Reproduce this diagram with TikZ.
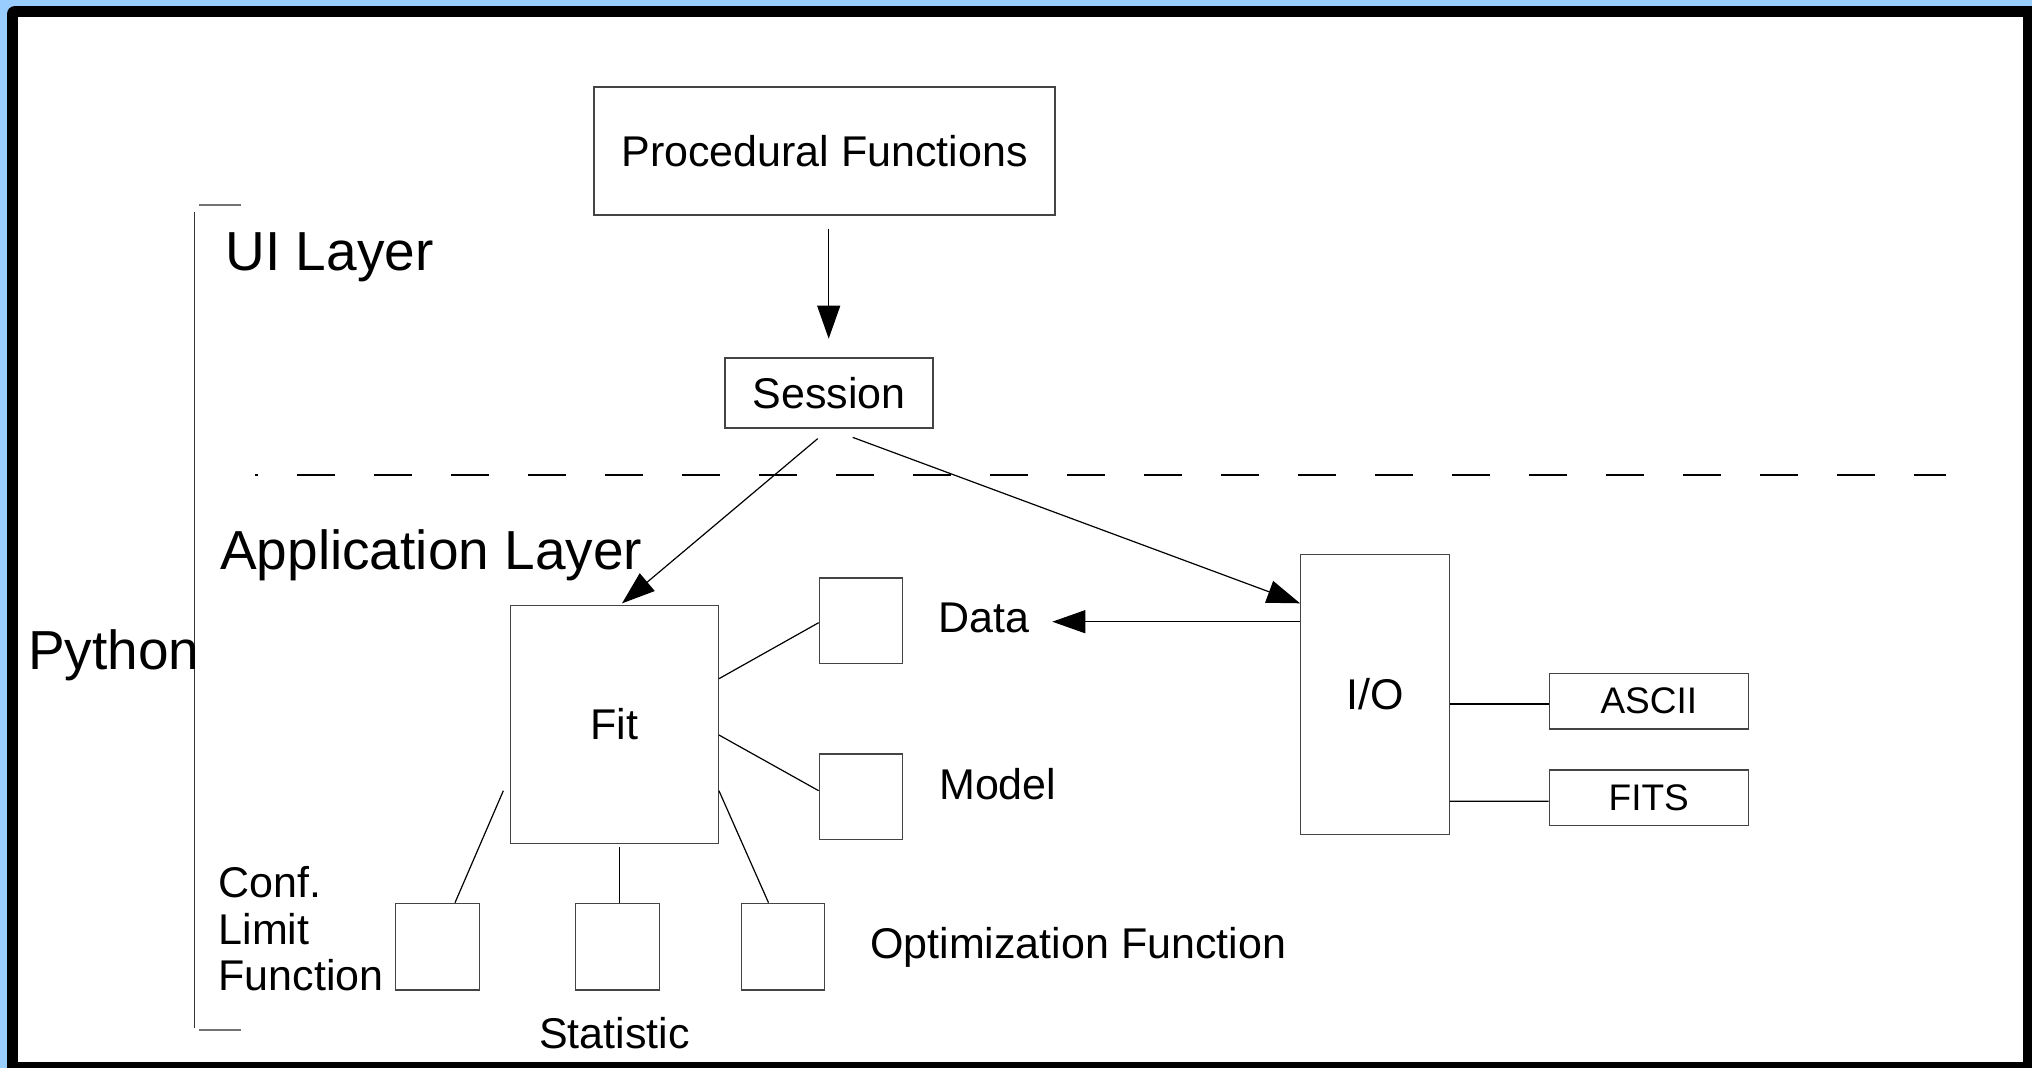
\documentclass[tikz,border=0pt]{standalone}
\usepackage{fontspec}
\setmainfont{Liberation Sans}
\usetikzlibrary{arrows.meta}
\definecolor{winblue}{HTML}{99CCFF}
\definecolor{boxline}{HTML}{444444}
\tikzset{
  box/.style={draw=boxline, line width=1.3pt, inner sep=0pt, font=\fontsize{43}{48}\selectfont},
  smallbox/.style={box, font=\fontsize{37}{42}\selectfont},
  conn/.style={draw=black, line width=1.2pt},
  arr/.style={conn, -{Triangle[length=33pt,width=23pt]}},
  lbl/.style={inner sep=0pt, font=\fontsize{43}{47}\selectfont, anchor=base west},
  biglbl/.style={inner sep=0pt, font=\fontsize{55}{60}\selectfont, anchor=base west},
}
\begin{document}
\begin{tikzpicture}[x=1pt,y=-1pt]
\useasboundingbox (0,0) rectangle (2032,1068);
\fill[winblue] (0,0) rectangle (2032,1068);
\fill[black, rounded corners=8pt] (7,6) rectangle (2045,1080);
\fill[white] (18,17) rectangle (2023,1062);

% layer separator
\draw[line width=1.2pt, dash pattern=on 38pt off 39pt, dash phase=35pt] (255,475) -- (1946,475);

% bracket
\draw[line width=1.2pt, black!80] (194.4,212) -- (194.4,1027.7);
\draw[line width=1.5pt, black!55] (199,205) -- (240.7,205);
\draw[line width=1.5pt, black!55] (199,1030) -- (240.7,1030);

% big labels
\node[biglbl] (ui) at (225.5,270) {UI Layer};
\node[biglbl] (app) at (220,569) {Application Layer};
\node[biglbl] (py) at (28,669) {Python};

% boxes
\node[box, minimum width=461pt, minimum height=128pt] (proc) at (824.5,151) {Procedural Functions};
\node[box, minimum width=208pt, minimum height=70pt] (session) at (829,393) {Session};
\node[box, minimum width=207.6pt, minimum height=237.6pt] (fit) at (614.5,724.5) {Fit};
\node[box, minimum width=83.4pt, minimum height=85.3pt] (data) at (861,620.7) {};
\node[box, minimum width=83.4pt, minimum height=85.3pt] (model) at (861,796.7) {};
\node[box, minimum width=84.2pt, minimum height=86.7pt] (conf) at (437.4,946.7) {};
\node[box, minimum width=84.2pt, minimum height=86.7pt] (stat) at (617.5,946.7) {};
\node[box, minimum width=82.9pt, minimum height=86.7pt] (opt) at (782.7,946.7) {};
\node[box, minimum width=148.6pt, minimum height=279.6pt] (io) at (1375,694.5) {I/O};
\node[smallbox, minimum width=199pt, minimum height=55.7pt] (ascii) at (1648.8,701.2) {ASCII};
\node[smallbox, minimum width=199pt, minimum height=55.7pt] (fits) at (1648.8,797.9) {FITS};

% labels
\node[lbl] (datalbl) at (938.5,632) {Data};
\node[lbl] (modellbl) at (939,799.5) {Model};
\node[lbl] (optlbl) at (870,958) {Optimization Function};
\node[lbl] (statlbl) at (539,1048) {Statistic};
\node[inner sep=0pt, anchor=north west, align=left, font=\fontsize{43}{46.7}\selectfont] (conflbl) at (218.5,866) {Conf.\\Limit\\Function};

\coordinate (dtip) at (1052.3,621.7);

% arrows
\draw[arr, shorten <=13pt, shorten >=18.7pt] ([xshift=4.2pt]proc.south) -- ([xshift=-0.3pt]session.north);
\draw[arr] ([xshift=-11.3pt,yshift=-10pt]session.south) -- ([xshift=7.5pt,yshift=1.7pt]fit.north);
\draw[arr] ([xshift=23.7pt,yshift=-8.7pt]session.south) -- ([yshift=91.2pt]io.west);
\draw[arr] ([yshift=72.8pt]io.west) -- (dtip);

% plain connectors
\draw[conn] ([yshift=45.8pt]fit.east) -- ([yshift=-2pt]data.west);
\draw[conn] ([yshift=-10.5pt]fit.east) -- ([yshift=6pt]model.west);
\draw[conn] ([yshift=-66.2pt]fit.east) -- ([xshift=-14.2pt]opt.north);
\draw[conn] ([xshift=-6.7pt,yshift=-66.2pt]fit.west) -- ([xshift=17.6pt]conf.north);
\draw[conn, shorten >=3.4pt] ([xshift=1.8pt]stat.north) -- ([xshift=1.8pt]stat.north |- fit.south);
\draw[conn] ([yshift=-9.5pt]io.east) -- ([yshift=-2.8pt]ascii.west);
\draw[conn] ([yshift=-106.8pt]io.east) -- ([yshift=-3.4pt]fits.west);
\end{tikzpicture}
\end{document}
